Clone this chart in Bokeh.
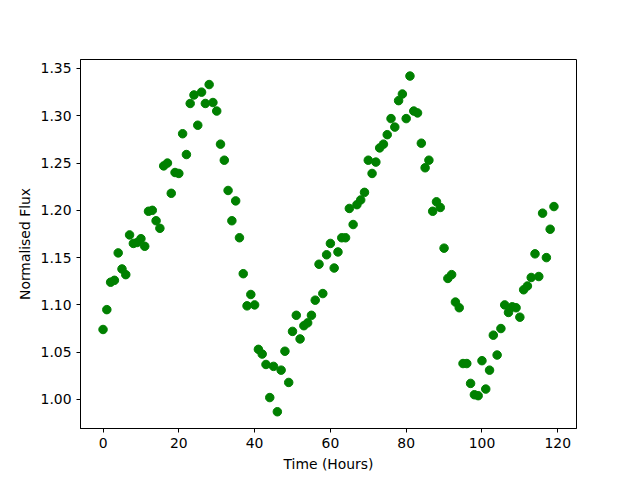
from bokeh.plotting import figure
from bokeh.models import Range1d, FixedTicker, PrintfTickFormatter
from bokeh.embed import file_html
from bokeh.resources import INLINE

hours = list(range(0, 120))
flux = [
    1.074, 1.095, 1.124, 1.126, 1.155, 1.138, 1.132, 1.174, 1.165, 1.166,
    1.170, 1.162, 1.199, 1.200, 1.189, 1.181, 1.247, 1.250, 1.218, 1.240,
    1.239, 1.281, 1.259, 1.313, 1.322, 1.290, 1.325, 1.313, 1.333, 1.314,
    1.305, 1.270, 1.253, 1.221, 1.189, 1.210, 1.171, 1.133, 1.099, 1.111,
    1.100, 1.053, 1.048, 1.037, 1.002, 1.035, 0.987, 1.031, 1.051, 1.018,
    1.072, 1.089, 1.064, 1.078, 1.081, 1.089, 1.105, 1.143, 1.112, 1.153,
    1.165, 1.139, 1.156, 1.171, 1.171, 1.202, 1.185, 1.206, 1.211, 1.219,
    1.253, 1.239, 1.251, 1.266, 1.270, 1.280, 1.297, 1.288, 1.316, 1.323,
    1.297, 1.342, 1.305, 1.303, 1.271, 1.245, 1.253, 1.199, 1.209, 1.203,
    1.160, 1.128, 1.132, 1.103, 1.097, 1.038, 1.038, 1.017, 1.005, 1.004,
    1.041, 1.011, 1.031, 1.068, 1.047, 1.075, 1.100, 1.092, 1.098, 1.097,
    1.087, 1.116, 1.120, 1.129, 1.154, 1.130, 1.197, 1.150, 1.180, 1.204,
]
x_ticks = [0, 20, 40, 60, 80, 100, 120]
y_ticks = [1.00, 1.05, 1.10, 1.15, 1.20, 1.25, 1.30, 1.35]
x_label = "Time (Hours)"
y_label = "Normalised Flux"

p = figure(
    frame_width=496, frame_height=369,
    min_border_left=80, min_border_right=50, min_border_top=59, min_border_bottom=44,
    x_range=Range1d(-5.95, 124.95), y_range=Range1d(0.9693, 1.3595),
    output_backend="svg", toolbar_location=None,
)
p.scatter(hours, flux, size=8.5, color="green", line_color="green")

p.xgrid.visible = False
p.ygrid.visible = False
p.outline_line_color = "black"
p.outline_line_alpha = 1.0
p.outline_line_width = 1
p.background_fill_color = "white"
p.border_fill_color = "white"

p.xaxis.ticker = FixedTicker(ticks=x_ticks)
p.yaxis.ticker = FixedTicker(ticks=y_ticks)
p.yaxis.formatter = PrintfTickFormatter(format="%.2f")
p.xaxis.axis_label = x_label
p.yaxis.axis_label = y_label

for ax in (p.xaxis, p.yaxis):
    ax.axis_line_color = "black"
    ax.major_tick_line_color = "black"
    ax.major_tick_out = 4
    ax.major_tick_in = 0
    ax.minor_tick_line_color = None
    ax.major_label_text_font = "DejaVu Sans"
    ax.major_label_text_font_size = "13.9px"
    ax.major_label_text_color = "black"
    ax.axis_label_text_font = "DejaVu Sans"
    ax.axis_label_text_font_size = "13.9px"
    ax.axis_label_text_font_style = "normal"
    ax.axis_label_text_color = "black"
    ax.major_label_standoff = 5
    ax.axis_label_standoff = 5

open("out.html", "w").write(file_html(p, INLINE))
